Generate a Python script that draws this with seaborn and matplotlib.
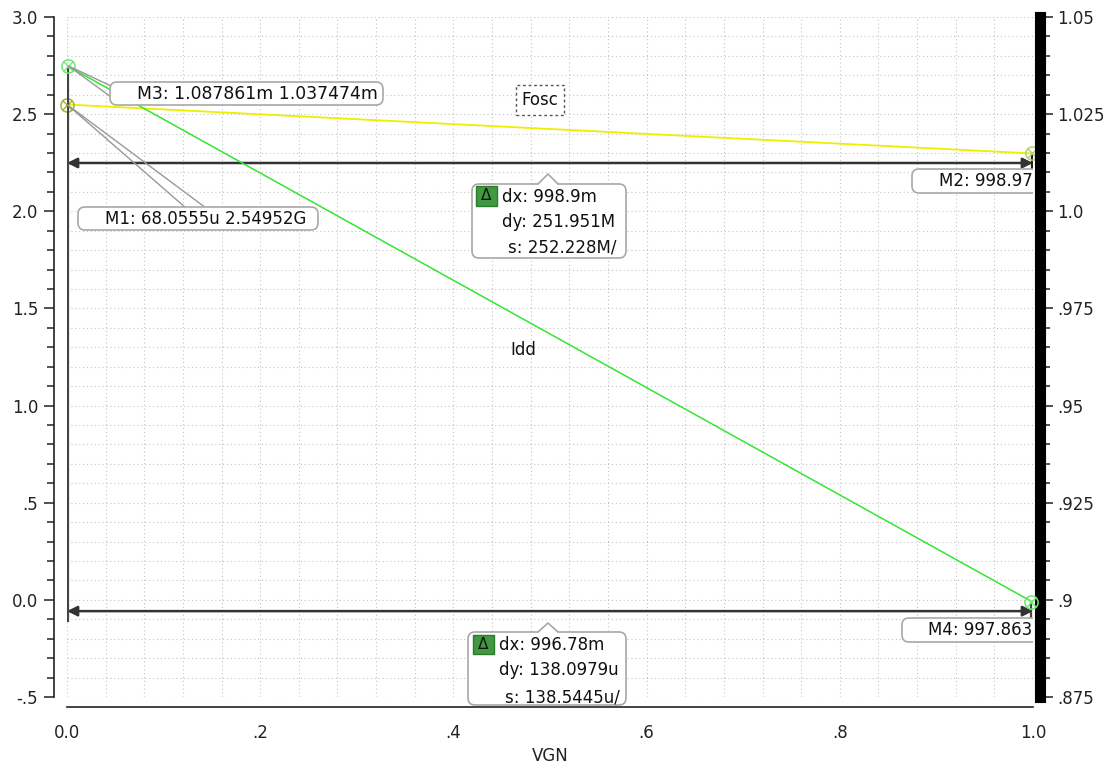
import matplotlib
matplotlib.use('Agg')
import matplotlib.pyplot as plt
import matplotlib.transforms as mtransforms
from matplotlib.patches import FancyBboxPatch, Polygon, Rectangle
from matplotlib.lines import Line2D
from matplotlib.ticker import MultipleLocator, FuncFormatter
import seaborn as sns

sns.set_style('white')
plt.rcParams['font.family'] = ['DejaVu Sans']

# ---------- data ----------
vgn = [0.0, 1.0]
fosc_ghz = [2.54952, 2.29757]      # left axis (G)
idd_ma = [1.037474, 0.899376]      # right axis (m)

fosc_marker_names = ['M1', 'M2']
fosc_marker_x = [68.0555e-6, 0.99897]
fosc_marker_y = [2.54952, 2.29757]
idd_marker_names = ['M3', 'M4']
idd_marker_x = [1.087861e-3, 0.997863]
idd_marker_y = [1.037474, 0.899376]

# labels as shown (M2 / M4 are cut by the plot edge in the viewer)
marker_labels = ['M1: 68.0555u 2.54952G', 'M2: 998.97',
                 'M3: 1.087861m 1.037474m', 'M4: 997.863']
delta_fosc = ['dx: 998.9m', 'dy: 251.951M', 's: 252.228M/']
delta_idd = ['dx: 996.78m', 'dy: 138.0979u', 's: 138.5445u/']

W, H = 1115, 769
fig = plt.figure(figsize=(W / 100, H / 100), dpi=100)
ax = fig.add_axes([67 / W, 1 - 697 / H, 966 / W, 680 / H])
ax2 = ax.twinx()

# pixel (from top-left) transform for call-outs
T = mtransforms.Affine2D().scale(1, -1).translate(0, H)


def cad_fmt(v, pos):
    s = f'{v:.3f}'.rstrip('0')
    if s.endswith('.'):
        s += '0'
    if s == '-0.0':
        s = '0.0'
    if s.startswith('0.') and s != '0.0':
        s = s[1:]
    if s.startswith('-0.'):
        s = '-' + s[2:]
    return s


# ---------- curves ----------
sns.lineplot(x=vgn, y=fosc_ghz, ax=ax, color='#eeee00', linewidth=1.3)
sns.lineplot(x=vgn, y=idd_ma, ax=ax2, color='#33e633', linewidth=1.1)

ax.set_xlim(0, 1.0)
ax.set_ylim(-0.5, 3.0)
ax2.set_ylim(0.875, 1.05)

ax.xaxis.set_major_locator(MultipleLocator(0.2))
ax.xaxis.set_minor_locator(MultipleLocator(0.04))
ax.yaxis.set_major_locator(MultipleLocator(0.5))
ax.yaxis.set_minor_locator(MultipleLocator(0.1))
ax2.yaxis.set_major_locator(MultipleLocator(0.025))
ax2.yaxis.set_minor_locator(MultipleLocator(0.005))
for a in (ax.xaxis, ax.yaxis, ax2.yaxis):
    a.set_major_formatter(FuncFormatter(cad_fmt))

ax.grid(which='both', axis='both', linestyle=(0, (1, 2.5)), color='#c4c4c4', linewidth=0.8)
ax2.grid(False)

for s in ('top', 'right'):
    ax.spines[s].set_visible(False)
ax.spines['left'].set_position(('outward', 9.4))
ax.spines['bottom'].set_position(('outward', 7.2))
for s in ('left', 'bottom'):
    ax.spines[s].set_linewidth(1.2)
    ax.spines[s].set_color('#222222')
for s in ('left', 'top', 'bottom'):
    ax2.spines[s].set_visible(False)
ax2.spines['right'].set_position(('outward', 5))
ax2.spines['right'].set_linewidth(8)
ax2.spines['right'].set_color('black')

ax.tick_params(axis='y', which='major', length=7, width=1.1, pad=4.3, labelsize=12, colors='#222222')
ax.tick_params(axis='y', which='minor', length=5, width=1.1, colors='#222222')
ax.tick_params(axis='x', which='major', length=5, width=1.1, pad=7, labelsize=12, colors='#222222')
ax.tick_params(axis='x', which='minor', length=3.6, width=1.1, colors='#222222')
ax2.tick_params(axis='y', which='major', length=9, width=1.1, pad=3.6, labelsize=12, colors='#222222')
ax2.tick_params(axis='y', which='minor', length=7.5, width=1.1, colors='#222222')
ax.set_xlabel('VGN', fontsize=12, labelpad=4, color='#222222')
ax.set_ylabel('')
ax2.set_ylabel('')

# ---------- delta lines ----------
ax.annotate('', xy=(0, 2.2486), xytext=(1.0, 2.2486),
            arrowprops=dict(arrowstyle='<|-|>,head_length=0.6,head_width=0.3',
                            color='#333333', lw=1.8, shrinkA=0, shrinkB=0), zorder=3)
ax2.annotate('', xy=(0, 0.8971), xytext=(1.0, 0.8971),
             arrowprops=dict(arrowstyle='<|-|>,head_length=0.6,head_width=0.3',
                             color='#333333', lw=1.8, shrinkA=0, shrinkB=0), zorder=3)
ax.vlines([fosc_marker_x[0], fosc_marker_x[1]], 2.185, fosc_marker_y, color='#222222', lw=1.6, zorder=3)
ax2.vlines([idd_marker_x[0], idd_marker_x[1]], 0.8943, idd_marker_y, color='#444444', lw=1.6, zorder=3)

# ---------- markers ----------
for mx, my, c in zip(fosc_marker_x, fosc_marker_y, ['#a8b040', '#b4d070']):
    ax.plot(mx, my, marker='o', ms=9.5, mfc='none', mec=c, mew=1.1, clip_on=False, zorder=6)
    ax.plot(mx, my, marker='x', ms=6.5, mec=c, mew=1.0, clip_on=False, zorder=6)
for mx, my in zip(idd_marker_x, idd_marker_y):
    ax2.plot(mx, my, marker='o', ms=9.5, mfc='none', mec='#70e870', mew=1.1, clip_on=False, zorder=6)
    ax2.plot(mx, my, marker='x', ms=6.5, mec='#70e870', mew=1.0, clip_on=False, zorder=6)


def to_px(axis, x, y):
    dx, dy = axis.transData.transform((x, y))
    return dx, H - dy


def rbox(x0, y0, x1, y1, clip):
    p = FancyBboxPatch((x0, y0), x1 - x0, y1 - y0, boxstyle='round,pad=0,rounding_size=7',
                       transform=T, fc='white', ec='#a8a8a8', lw=1.2, zorder=8, clip_on=clip)
    ax2.add_artist(p)


def txt(x, y, s, size=12, **kw):
    ax2.text(x, y, s, transform=T, fontsize=size, color='#111111', va='center',
             zorder=9, clip_on=False, **kw)


def wedge(apex, b1, b2):
    ax2.add_artist(Polygon([apex, b1, b2], closed=True, fill=False, ec='#999999',
                           lw=1.0, transform=T, zorder=7, clip_on=False))


# marker call-outs
wedge(to_px(ax2, idd_marker_x[0], idd_marker_y[0]), (111, 86), (111, 97))
rbox(110, 82, 383, 105, False)
txt(137, 94, marker_labels[2], size=12.4)

wedge(to_px(ax, fosc_marker_x[0], fosc_marker_y[0]), (186, 208), (206, 208))
rbox(78, 207, 318, 230, False)
txt(105, 219, marker_labels[0])

rbox(912, 169, 1080, 193, True)
txt(939, 181, marker_labels[1])

rbox(902, 618, 1080, 642, True)
txt(928, 630, marker_labels[3])

# trace labels
ax2.text(540, 100, 'Fosc', transform=T, fontsize=12, ha='center', va='center', color='#111111',
         zorder=9, bbox=dict(boxstyle='square,pad=0.35', fc='white', ec='#555555', ls=(0, (2, 2)), lw=1))
txt(523, 350, 'Idd', ha='center')


# delta boxes
def delta_box(x0, y0, x1, y1, tip_x, tip_y, sq, lines, xs, ys):
    rbox(x0, y0, x1, y1, False)
    tri = Polygon([(tip_x - 10, y0 + 1), (tip_x, tip_y), (tip_x + 10, y0 + 1)], closed=True,
                  fc='white', ec='none', transform=T, zorder=8.5, clip_on=False)
    ax2.add_artist(tri)
    ax2.add_artist(Line2D([tip_x - 10, tip_x, tip_x + 10], [y0, tip_y, y0], color='#a8a8a8',
                          lw=1.2, transform=T, zorder=8.6, clip_on=False))
    ax2.add_artist(Rectangle((sq[0], sq[1]), sq[2], sq[3], fc='#3f9a3f', ec='#2c7a2c', lw=1,
                             transform=T, zorder=9, clip_on=False))
    ax2.text(sq[0] + sq[2] / 2, sq[1] + sq[3] / 2, '\u0394', transform=T, fontsize=11,
             ha='center', va='center', color='#111111', zorder=10)
    for s, x, y in zip(lines, xs, ys):
        txt(x, y, s)


delta_box(472, 184, 626, 258, 548, 174, (476, 186, 21, 20), delta_fosc,
          [502, 502, 508], [197, 222, 248])
delta_box(468, 632, 626, 705, 548, 623, (473, 635, 21, 19), delta_idd,
          [499, 499, 505], [645, 670, 697])

plt.savefig('out.png', dpi=100)
